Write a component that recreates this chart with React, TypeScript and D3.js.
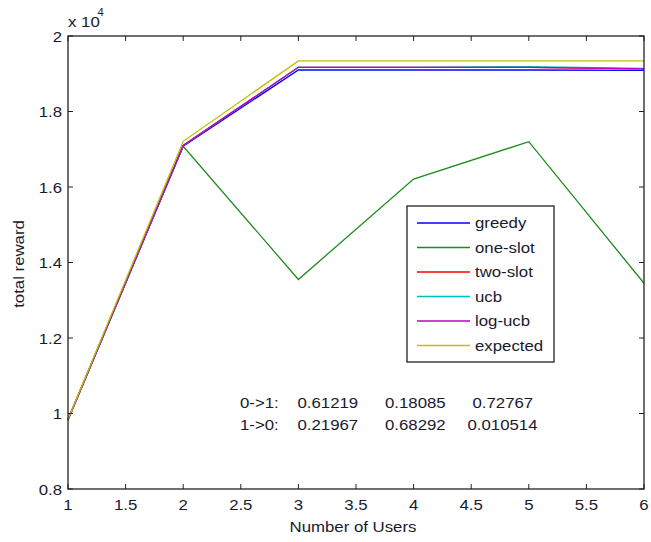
import React from "react";
import * as d3 from "d3";

const users = [1, 2, 3, 4, 5, 6];
const greedy = [9830, 17080, 19100, 19100, 19100, 19090];
const oneSlot = [9830, 17080, 13550, 16210, 17200, 13450];
const twoSlot = [9850, 17100, 19170, 19170, 19170, 19130];
const ucb = [9850, 17100, 19170, 19170, 19190, 19140];
const logUcb = [9840, 17100, 19170, 19170, 19170, 19130];
const expected = [9850, 17210, 19340, 19340, 19340, 19340];

const seriesNames = ["greedy", "one-slot", "two-slot", "ucb", "log-ucb", "expected"];
const seriesColors = ["#0000ff", "#1c8c1c", "#ff0000", "#00bfbf", "#bf00bf", "#bfbf00"];
const seriesValues = [greedy, oneSlot, twoSlot, ucb, logUcb, expected];

const xTicks = [1, 1.5, 2, 2.5, 3, 3.5, 4, 4.5, 5, 5.5, 6];
const yTicks = [8000, 10000, 12000, 14000, 16000, 18000, 20000];

const transLabels = ["0->1:", "1->0:"];
const transValues = [
  ["0.61219", "0.18085", "0.72767"],
  ["0.21967", "0.68292", "0.010514"],
];

const W = 651, H = 542;
const L = 68, R = 644, T = 36, B = 489;
const FONT = "'Liberation Sans', Arial, sans-serif";
const SX = 1.12;

function Txt({ x, y, anchor = "start", size = 15, rotate = 0, children }: any) {
  return (
    <text
      transform={`translate(${x},${y}) rotate(${rotate}) scale(${SX},1)`}
      textAnchor={anchor}
      fontFamily={FONT}
      fontSize={size}
      fill="#1a1a2e"
    >
      {children}
    </text>
  );
}

export default function App() {
  const x = d3.scaleLinear().domain([1, 6]).range([L, R]);
  const y = d3.scaleLinear().domain([8000, 20000]).range([B, T]);
  const line = d3
    .line<number>()
    .x((_, i) => x(users[i]))
    .y((d) => y(d));

  const lx0 = 417, lx1 = 470, ly0 = 223, lstep = 24.5;

  return (
    <svg width={W} height={H} style={{ position: "absolute", left: 0, top: 0, background: "#fff" }}>
      <rect x={0} y={0} width={W} height={H} fill="#fff" />
      {seriesValues.map((vals, i) => (
        <path key={i} d={line(vals) || ""} fill="none" stroke={seriesColors[i]} strokeWidth={1.3} />
      ))}
      {/* axes box */}
      <rect x={L} y={T} width={R - L} height={B - T} fill="none" stroke="#222" strokeWidth={1.3} />
      {xTicks.map((t) => (
        <g key={"x" + t}>
          <line x1={x(t)} x2={x(t)} y1={B} y2={B - 5} stroke="#222" />
          <line x1={x(t)} x2={x(t)} y1={T} y2={T + 5} stroke="#222" />
          <Txt x={x(t)} y={510} anchor="middle">{String(t)}</Txt>
        </g>
      ))}
      {yTicks.map((t) => (
        <g key={"y" + t}>
          <line x1={L} x2={L + 5} y1={y(t)} y2={y(t)} stroke="#222" />
          <line x1={R} x2={R - 5} y1={y(t)} y2={y(t)} stroke="#222" />
          <Txt x={62} y={y(t) + 5.5} anchor="end">{d3.format("")(t / 10000)}</Txt>
        </g>
      ))}
      <Txt x={68} y={26.5}>x 10</Txt>
      <Txt x={97.5} y={16} size={10}>4</Txt>
      <Txt x={353} y={532} anchor="middle">Number of Users</Txt>
      <Txt x={24} y={264} anchor="middle" rotate={-90}>total reward</Txt>

      {/* legend */}
      <rect x={407} y={206} width={147} height={156} fill="#fff" stroke="#222" strokeWidth={1.3} />
      {seriesNames.map((n, i) => (
        <g key={n}>
          <line x1={lx0} x2={lx1} y1={ly0 + i * lstep} y2={ly0 + i * lstep} stroke={seriesColors[i]} strokeWidth={1.3} />
          <Txt x={475} y={ly0 + i * lstep + 5}>{n}</Txt>
        </g>
      ))}

      {/* annotation */}
      {transLabels.map((lab, r) => (
        <g key={lab}>
          <Txt x={240} y={408 + r * 21.5}>{lab}</Txt>
          {transValues[r].map((v, c) => (
            <Txt key={c} x={[297.5, 385, r === 0 ? 472.5 : 467.5][c]} y={408 + r * 21.5}>{v}</Txt>
          ))}
        </g>
      ))}
    </svg>
  );
}
